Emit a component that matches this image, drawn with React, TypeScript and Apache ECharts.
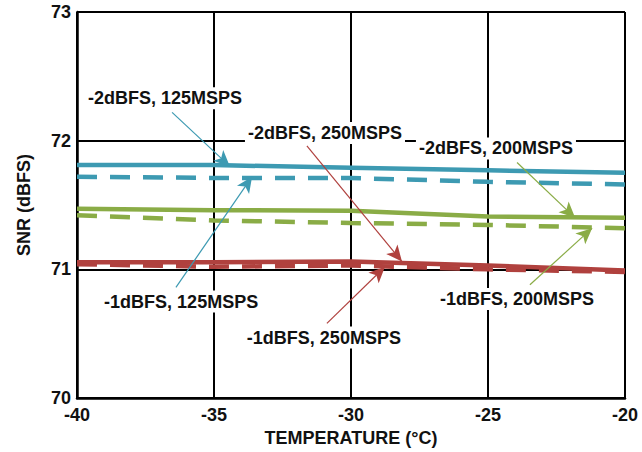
import React, { useEffect, useRef } from "react";
import * as echarts from "echarts";

const temps = [-40, -35, -30, -25, -20];
const snr2dBFS125 = [71.81, 71.81, 71.79, 71.77, 71.75];
const snr1dBFS125 = [71.72, 71.71, 71.71, 71.68, 71.66];
const snr2dBFS200 = [71.47, 71.46, 71.455, 71.41, 71.4];
const snr1dBFS200 = [71.42, 71.38, 71.36, 71.345, 71.32];
const snr2dBFS250 = [71.055, 71.055, 71.06, 71.03, 70.99];
const snr1dBFS250 = [71.04, 71.02, 71.03, 71.0, 70.98];

const xTicks = [-40, -35, -30, -25, -20];
const yTicks = [70, 71, 72, 73];

// annotation: label text, label centre [x, y], arrow start, arrow end (data coords)
const labels = ["-2dBFS, 125MSPS", "-1dBFS, 125MSPS", "-2dBFS, 200MSPS", "-1dBFS, 200MSPS", "-2dBFS, 250MSPS", "-1dBFS, 250MSPS"];
const labelPos = [[-36.79, 72.33], [-36.2, 70.75], [-24.71, 71.94], [-23.94, 70.77], [-30.95, 72.06], [-30.99, 70.47]];
const arrowFrom = [[-36.53, 72.22], [-36.39, 70.86], [-23.94, 71.83], [-23.47, 70.88], [-31.61, 71.96], [-30.88, 70.58]];
const arrowTo = [[-34.42, 71.8], [-33.61, 71.72], [-21.82, 71.4], [-21.2, 71.32], [-28.14, 71.06], [-28.76, 71.02]];

const BLUE = "#3d9ab2";
const GREEN = "#8aac46";
const RED = "#b0413e";
const FONT = "'Liberation Sans', Arial, sans-serif";

export default function App() {
  const ref = useRef<HTMLDivElement>(null);
  useEffect(() => {
    const chart = echarts.init(ref.current!, undefined, { renderer: "svg" });
    const seriesDefs = [
      { name: labels[0], data: snr2dBFS125, color: BLUE, dashed: false },
      { name: labels[1], data: snr1dBFS125, color: BLUE, dashed: true },
      { name: labels[2], data: snr2dBFS200, color: GREEN, dashed: false },
      { name: labels[3], data: snr1dBFS200, color: GREEN, dashed: true },
      { name: labels[4], data: snr2dBFS250, color: RED, dashed: false },
      { name: labels[5], data: snr1dBFS250, color: RED, dashed: true },
    ];
    const series: any[] = seriesDefs.map((s, i) => ({
      type: "line",
      name: s.name,
      data: temps.map((t, k) => [t, s.data[k]]),
      showSymbol: false,
      symbol: "none",
      z: s.dashed ? 3 : 4,
      lineStyle: { color: s.color, width: 4.5, type: s.dashed ? [20, 13] : "solid" },
      markLine: {
        silent: true,
        symbol: ["none", "arrow"],
        symbolSize: [11, 16],
        z: 6,
        lineStyle: { color: s.color, width: 1.2, type: "solid" },
        label: { show: false },
        data: [[{ coord: arrowFrom[i] }, { coord: arrowTo[i] }]],
      },
      markPoint: {
        silent: true,
        symbol: "circle",
        symbolSize: 0,
        z: 5,
        label: {
          show: true,
          position: "inside",
          formatter: labels[i],
          color: "#111",
          fontFamily: FONT,
          fontWeight: "bold",
          fontSize: 18,
          backgroundColor: "#fff",
          padding: [2, 3],
        },
        data: [{ coord: labelPos[i] }],
      },
    }));
    const textStyle = { color: "#111", fontFamily: FONT, fontWeight: "bold", fontSize: 18 };
    chart.setOption({
      animation: false,
      backgroundColor: "#fff",
      grid: { left: 77, right: 17, top: 12, bottom: 54 },
      xAxis: {
        type: "value",
        min: xTicks[0],
        max: xTicks[xTicks.length - 1],
        interval: 5,
        name: "TEMPERATURE (°C)",
        nameLocation: "middle",
        nameGap: 30,
        nameTextStyle: textStyle,
        axisLine: { show: true, lineStyle: { color: "#000", width: 2.5 } },
        axisTick: { show: false },
        axisLabel: { ...textStyle, margin: 8 },
        splitLine: { show: true, lineStyle: { color: "#000", width: 2 } },
      },
      yAxis: {
        type: "value",
        min: yTicks[0],
        max: yTicks[yTicks.length - 1],
        interval: 1,
        name: "SNR (dBFS)",
        nameLocation: "middle",
        nameGap: 44,
        nameTextStyle: textStyle,
        axisLine: { show: true, lineStyle: { color: "#000", width: 2.5 } },
        axisTick: { show: false },
        axisLabel: { ...textStyle, margin: 6 },
        splitLine: { show: true, lineStyle: { color: "#000", width: 2 } },
      },
      series,
    });
    return () => chart.dispose();
  }, []);
  return <div ref={ref} style={{ width: 642, height: 452, position: "absolute", left: 0, top: 0 }} />;
}
